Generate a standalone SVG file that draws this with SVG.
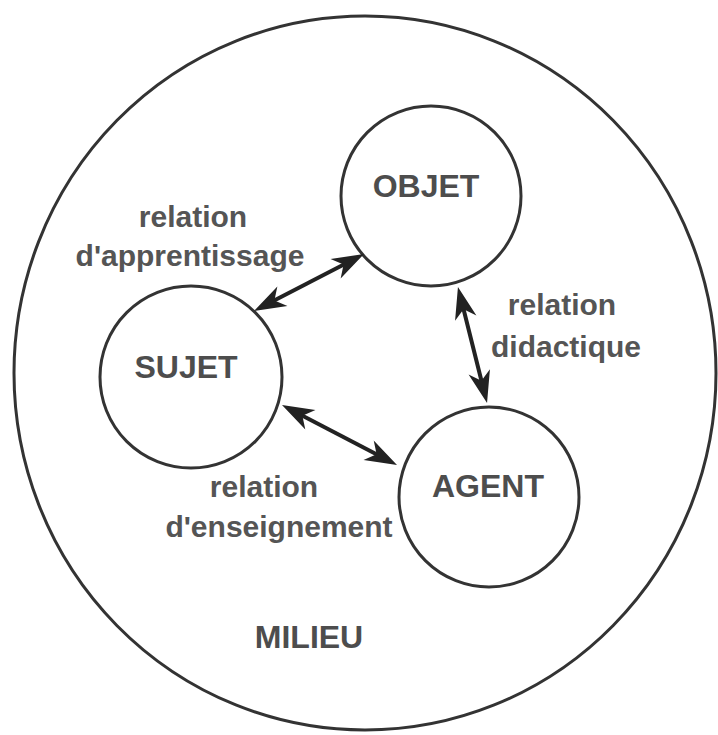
<svg xmlns="http://www.w3.org/2000/svg" width="718" height="735" viewBox="0 0 718 735">
  <style>
    .ring { fill: none; stroke: #333; stroke-width: 3; }
    .node { fill: #fff; stroke: #333; stroke-width: 3; }
    .title { font-family: "Liberation Sans", Arial, sans-serif; font-weight: bold; font-size: 32px; fill: #4d4d4d; text-anchor: middle; }
    .label { font-family: "Liberation Sans", Arial, sans-serif; font-weight: bold; font-size: 30px; fill: #555; text-anchor: middle; }
    .link { stroke: #222; stroke-width: 4; fill: none; marker-start: url(#head); marker-end: url(#head); }
  </style>
  <defs>
    <marker id="head" viewBox="-33 -12 35 24" refX="-8" refY="0" markerWidth="35" markerHeight="24" markerUnits="userSpaceOnUse" orient="auto-start-reverse">
      <path d="M0,0 L-32,-11 L-23,0 L-32,11 Z" fill="#222"/>
    </marker>
  </defs>

  <rect width="718" height="735" fill="#fff"/>

  <!-- surrounding environment -->
  <g id="milieu">
    <ellipse class="ring" cx="365" cy="373" rx="351" ry="357"/>
    <text class="title" x="309" y="648">MILIEU</text>
  </g>

  <g id="objet">
    <circle class="node" cx="431" cy="196" r="90"/>
    <text class="title" x="426" y="197">OBJET</text>
  </g>

  <g id="sujet">
    <circle class="node" cx="191" cy="377" r="91"/>
    <text class="title" x="186" y="378">SUJET</text>
  </g>

  <g id="agent">
    <circle class="node" cx="489" cy="497" r="90"/>
    <text class="title" x="488" y="497">AGENT</text>
  </g>

  <!-- two-way relations between the three poles -->
  <g id="connectors">
    <line class="link" x1="261.1" y1="307.3" x2="356.9" y2="257.7"/>
    <line class="link" x1="459.9" y1="294.8" x2="485.1" y2="395.2"/>
    <line class="link" x1="289.1" y1="408.7" x2="389.9" y2="461.3"/>
  </g>

  <g id="labels">
    <text class="label" x="193" y="227">relation</text>
    <text class="label" x="190" y="266">d'apprentissage</text>
    <text class="label" x="562" y="315">relation</text>
    <text class="label" x="566" y="357">didactique</text>
    <text class="label" x="264" y="497">relation</text>
    <text class="label" x="279" y="537">d'enseignement</text>
  </g>
</svg>
